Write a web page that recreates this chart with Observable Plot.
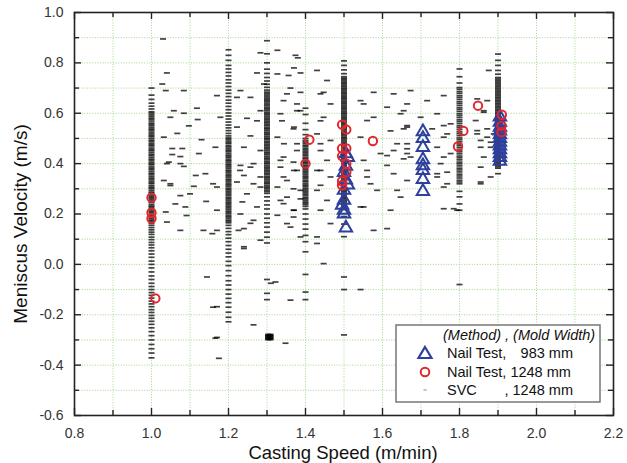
<!DOCTYPE html>
<html><head><meta charset="utf-8">
<script src="https://cdn.jsdelivr.net/npm/d3@7"></script>
<script src="https://cdn.jsdelivr.net/npm/@observablehq/plot@0.6"></script>
<style>
body{margin:0;background:#fff;font-family:"Liberation Sans",Arial,sans-serif}
#wrap{position:relative;width:627px;height:463px}
#over{position:absolute;left:0;top:0;pointer-events:none}
</style></head>
<body><div id="wrap"></div>
<script>
// ---- axis ticks ----
const xMajor = [0.8,1.0,1.2,1.4,1.6,1.8,2.0,2.2];
const xMinor = [0.9,1.1,1.3,1.5,1.7,1.9,2.1];
const yMajor = [-0.6,-0.4,-0.2,0.0,0.2,0.4,0.6,0.8,1.0];
const yMinor = [-0.5,-0.3,-0.1,0.1,0.3,0.5,0.7,0.9];
const xTitle = "Casting Speed (m/min)";
const yTitle = "Meniscus Velocity (m/s)";

// ---- Nail Test, 983 mm (triangles) ----
const tri983 = [
 [1.505,0.44],[1.51,0.425],[1.505,0.39],[1.5,0.365],[1.505,0.335],[1.51,0.315],[1.5,0.295],[1.5,0.255],[1.495,0.235],[1.5,0.215],[1.5,0.2],[1.505,0.145],
 [1.705,0.527],[1.705,0.5],[1.705,0.464],[1.705,0.416],[1.705,0.392],[1.705,0.373],[1.705,0.337],[1.705,0.29],
 [1.905,0.585],[1.905,0.565],[1.905,0.545],[1.905,0.53],[1.905,0.515],[1.905,0.5],[1.905,0.485],[1.905,0.47],[1.905,0.455],[1.905,0.44],[1.905,0.425],[1.905,0.41]
];
// ---- Nail Test, 1248 mm (circles) ----
const circ1248 = [
 [1.0,0.265],[1.0,0.205],[1.0,0.182],[1.01,-0.135],
 [1.41,0.495],[1.4,0.4],
 [1.495,0.555],[1.506,0.535],[1.495,0.46],[1.506,0.46],[1.495,0.43],[1.506,0.4],[1.506,0.366],[1.495,0.33],[1.495,0.314],
 [1.575,0.49],[1.81,0.53],[1.796,0.468],[1.848,0.63],
 [1.91,0.594],[1.909,0.55],[1.909,0.525]
];
// ---- SVC, 1248 mm (dashes): dense columns at fixed casting speed ----
const col100 = [0.70,0.672,0.655,0.64,0.628,0.617,0.606,0.601,0.594,0.588,0.581,0.576,0.569,0.561,0.556,0.55,0.543,0.537,0.532,0.525,0.518,0.512,0.507,0.5,0.493,0.488,0.481,0.475,0.47,0.462,0.456,0.451,0.444,0.437,0.432,0.425,0.418,0.413,0.406,0.4,0.395,0.387,0.381,0.376,0.369,0.362,0.357,0.35,0.343,0.338,0.331,0.325,0.32,0.312,0.306,0.301,0.294,0.287,0.282,0.275,0.268,0.263,0.256,0.25,0.245,0.237,0.231,0.226,0.219,0.212,0.207,0.2,0.193,0.188,0.181,0.175,0.17,0.163,0.155,0.146,0.137,0.128,0.119,0.108,0.098,0.087,0.077,0.066,0.054,0.041,0.028,0.013,0.0,-0.014,-0.03,-0.046,-0.06,-0.075,-0.088,-0.1,-0.112,-0.123,-0.134,-0.146,-0.157,-0.168,-0.18,-0.191,-0.203,-0.214,-0.226,-0.238,-0.252,-0.267,-0.283,-0.3,-0.318,-0.335,-0.352,-0.371];
const col120 = [0.852,0.83,0.81,0.79,0.776,0.762,0.748,0.733,0.72,0.706,0.692,0.679,0.666,0.652,0.64,0.627,0.614,0.601,0.589,0.577,0.565,0.553,0.542,0.531,0.52,0.51,0.502,0.497,0.49,0.484,0.479,0.471,0.466,0.459,0.453,0.448,0.441,0.434,0.429,0.423,0.416,0.411,0.405,0.398,0.393,0.387,0.381,0.374,0.369,0.363,0.356,0.351,0.345,0.338,0.333,0.327,0.32,0.315,0.309,0.302,0.297,0.291,0.285,0.279,0.273,0.266,0.261,0.255,0.248,0.243,0.237,0.231,0.225,0.219,0.212,0.207,0.201,0.194,0.189,0.183,0.176,0.171,0.165,0.155,0.143,0.13,0.118,0.104,0.09,0.075,0.06,0.045,0.03,0.012,-0.005,-0.025,-0.045,-0.065,-0.082,-0.1,-0.118,-0.135,-0.152,-0.17,-0.19,-0.21,-0.228];
const col130 = [0.888,0.836,0.80,0.775,0.758,0.742,0.728,0.715,0.703,0.692,0.684,0.678,0.672,0.665,0.659,0.653,0.648,0.641,0.635,0.629,0.622,0.617,0.611,0.604,0.598,0.593,0.586,0.58,0.574,0.568,0.562,0.556,0.55,0.543,0.538,0.532,0.525,0.519,0.514,0.507,0.501,0.496,0.489,0.483,0.477,0.471,0.465,0.459,0.453,0.446,0.441,0.435,0.428,0.422,0.417,0.41,0.404,0.399,0.392,0.386,0.38,0.374,0.368,0.362,0.356,0.349,0.344,0.338,0.331,0.325,0.32,0.313,0.307,0.302,0.295,0.289,0.282,0.268,0.252,0.236,0.22,0.2,0.183,0.165,0.148,0.128,0.108,0.085,-0.06,-0.115,-0.14];
const blob130 = [-0.278,-0.281,-0.284,-0.287,-0.29,-0.293,-0.296,-0.299];
const col140 = [0.62,0.595,0.56,0.535,0.515,0.5,0.492,0.486,0.48,0.473,0.468,0.461,0.455,0.449,0.443,0.437,0.431,0.424,0.419,0.412,0.406,0.401,0.394,0.388,0.382,0.376,0.37,0.364,0.358,0.351,0.346,0.34,0.333,0.328,0.321,0.315,0.31,0.303,0.297,0.291,0.285,0.279,0.273,0.266,0.261,0.255,0.248,0.243,0.237,0.23,0.22,0.2,0.18,0.16,0.14,0.115,0.09,0.05,-0.04,-0.11,-0.14];
const col150 = [0.808,0.79,0.772,0.757,0.745,0.739,0.734,0.728,0.722,0.717,0.711,0.705,0.699,0.694,0.688,0.682,0.677,0.671,0.665,0.66,0.654,0.648,0.642,0.637,0.631,0.625,0.62,0.614,0.608,0.602,0.597,0.591,0.585,0.58,0.574,0.568,0.562,0.557,0.551,0.545,0.54,0.534,0.528,0.522,0.517,0.511,0.505,0.5,0.494,0.488,0.482,0.477,0.471,0.465,0.46,0.454,0.448,0.442,0.437,0.431,0.425,0.42,0.414,0.408,0.402,0.397,0.391,0.385,0.38,0.374,0.368,0.362,0.357,0.351,0.345,0.34,0.334,0.328,0.322,0.317,0.311,0.305,0.3,0.294,0.288,0.282,0.277,0.271,0.265,0.26,0.254,0.248,0.242,0.237,0.231,0.225,0.218,0.19,0.16,0.11,-0.05,-0.1,-0.28];
const col180 = [0.776,0.745,0.72,0.702,0.695,0.686,0.679,0.67,0.663,0.655,0.646,0.639,0.631,0.622,0.615,0.607,0.598,0.591,0.583,0.574,0.567,0.559,0.55,0.543,0.535,0.526,0.519,0.511,0.502,0.495,0.487,0.478,0.471,0.463,0.454,0.447,0.439,0.43,0.423,0.415,0.406,0.399,0.391,0.382,0.375,0.367,0.358,0.351,0.343,0.334,0.327,0.32,0.29,0.268,0.24,0.215,-0.08];
const col190 = [0.835,0.81,0.79,0.77,0.755,0.742,0.736,0.73,0.724,0.718,0.712,0.706,0.7,0.694,0.688,0.682,0.676,0.67,0.664,0.658,0.652,0.646,0.64,0.634,0.628,0.622,0.616,0.61,0.604,0.598,0.592,0.586,0.58,0.574,0.568,0.562,0.556,0.55,0.544,0.538,0.532,0.526,0.52,0.514,0.508,0.502,0.496,0.49,0.484,0.478,0.472,0.466,0.46,0.454,0.448,0.442,0.436,0.43,0.424,0.418,0.412,0.406,0.4,0.394,0.388,0.382,0.36];
// ---- SVC scattered dashes between the columns ----
const svcScatter = [
 [1.03,0.895],[1.04,0.76],[1.028,0.716],[1.037,0.69],[1.084,0.69],[1.058,0.61],[1.049,0.584],[1.084,0.6],[1.097,0.55],[1.032,0.505],[1.067,0.52],[1.054,0.46],[1.08,0.46],[1.04,0.4],[1.075,0.4],[1.032,0.333],[1.049,0.313],[1.075,0.273],[1.062,0.24],[1.088,0.228],[1.037,0.208],
 [1.054,0.436],[1.075,0.428],[1.123,0.44],[1.045,0.406],[1.084,0.389],[1.115,0.353],[1.14,0.36],[1.049,0.32],[1.1,0.28],[1.091,0.194],[1.04,0.168],[1.135,0.135],[1.17,0.135],[1.075,0.135],[1.16,0.32],[1.144,-0.05],[1.16,-0.17],[1.17,-0.29],[1.24,0.07],[1.265,0.4],[1.23,0.373],[1.283,0.307],[1.257,0.163],[1.226,0.135],[1.322,-0.07],[1.31,-0.075],
 [1.12,0.575],[1.13,0.495],[1.118,0.62],[1.142,0.25],[1.11,0.31],
 [1.283,0.84],[1.327,0.85],[1.374,0.83],[1.38,0.82],[1.274,0.76],[1.356,0.75],[1.387,0.76],[1.292,0.716],[1.361,0.7],[1.231,0.69],[1.387,0.683],[1.447,0.683],[1.17,0.67],[1.222,0.663],[1.257,0.663],[1.343,0.65],[1.283,0.61],[1.378,0.61],[1.179,0.584],[1.248,0.58],[1.274,0.57],[1.339,0.57],[1.439,0.57],[1.222,0.545],[1.369,0.538],[1.257,0.51],[1.327,0.505],[1.378,0.479],[1.439,0.479],[1.24,0.465],[1.166,0.465],[1.283,0.452],[1.343,0.426],[1.369,0.406],[1.231,0.393],[1.257,0.386],[1.335,0.386],[1.378,0.373],[1.439,0.373],[1.24,0.353],[1.283,0.347],[1.343,0.347],[1.222,0.327],[1.265,0.32],[1.327,0.307],[1.369,0.3],[1.439,0.314],[1.17,0.307],[1.248,0.28],[1.352,0.267],[1.387,0.26],[1.236,0.248],[1.343,0.241],[1.274,0.228],[1.369,0.215],[1.231,0.2],[1.327,0.195],[1.265,0.175],[1.369,0.188],[1.17,0.215],[1.158,0.122],[1.24,0.142],[1.361,0.148],[1.283,0.096],[1.24,0.063],[1.43,0.083],[1.361,-0.142],[1.17,-0.168],[1.265,-0.24],[1.348,-0.313],[1.175,-0.373],[1.166,-0.293],
 [1.327,0.756],[1.37,0.78],[1.352,0.677],[1.378,0.637],[1.335,0.598],[1.37,0.545],[1.344,0.479],[1.378,0.452],[1.335,0.413],[1.37,0.373],[1.352,0.333],[1.387,0.294],[1.335,0.254],[1.37,0.215],[1.352,0.162],[1.387,0.109],
 [1.43,0.77],[1.456,0.73],[1.439,0.677],[1.465,0.637],[1.387,0.61],[1.447,0.584],[1.43,0.518],[1.465,0.492],[1.439,0.452],[1.456,0.413],[1.43,0.373],[1.465,0.347],[1.43,0.294],[1.456,0.254],[1.439,0.215],[1.465,0.162],[1.43,0.109],[1.447,0.003],
 [1.543,0.65],[1.577,0.683],[1.629,0.677],[1.664,0.637],[1.56,0.571],[1.621,0.53],[1.655,0.538],[1.543,0.505],[1.595,0.44],[1.629,0.452],[1.664,0.44],[1.551,0.413],[1.612,0.393],[1.56,0.347],[1.629,0.36],[1.586,0.294],[1.647,0.267],[1.543,0.228],[1.577,0.135],[1.621,0.215],[1.543,-0.1],
 [1.551,0.637],[1.612,0.624],[1.647,0.598],[1.577,0.584],[1.664,0.545],[1.759,0.551],[1.768,0.518],[1.638,0.479],[1.664,0.459],[1.742,0.465],[1.612,0.432],[1.655,0.419],[1.759,0.426],[1.56,0.373],[1.742,0.36],[1.569,0.32],[1.768,0.32],[1.551,0.228],[1.612,0.142],[1.759,0.221],[1.638,0.294],
 [1.673,0.69],[1.716,0.65],[1.759,0.67],[1.655,0.61],[1.699,0.584],[1.742,0.598],[1.777,0.558],[1.664,0.551],[1.729,0.538],[1.759,0.505],[1.664,0.479],[1.777,0.44],[1.673,0.426],[1.751,0.4],[1.768,0.366],[1.742,0.347],[1.664,0.333],[1.759,0.307],[1.855,0.32],[1.785,0.221],[1.794,0.215],
 [1.846,0.657],[1.863,0.61],[1.842,0.571],[1.872,0.538],[1.855,0.492],[1.881,0.465],[1.863,0.426],[1.855,0.386],[1.881,0.347],[1.846,0.518],[1.876,0.77],
 [1.872,0.65],[1.863,0.604],[1.846,0.531],[1.872,0.505],[1.855,0.465],[1.881,0.485],[1.855,0.327],[1.889,0.518]
];

const svc = [
  ...col100.map(y => ({x: 1.0, y})),
  ...col120.map(y => ({x: 1.2, y})),
  ...col130.map(y => ({x: 1.3, y})),
  ...blob130.map(y => ({x: 1.303, y})),
  ...blob130.map(y => ({x: 1.309, y})),
  ...col140.map(y => ({x: 1.4, y})),
  ...col150.map(y => ({x: 1.5, y})),
  ...col180.map(y => ({x: 1.8, y})),
  ...col190.map(y => ({x: 1.9, y})),
  ...svcScatter.map(([x, y]) => ({x, y}))
];
const tri = tri983.map(([x, y]) => ({x, y}));
const circ = circ1248.map(([x, y]) => ({x, y}));

const W = 627, H = 463, mL = 74, mR = 14, mT = 12, mB = 48;
const fw = W - mL - mR, fh = H - mT - mB;
const dash = {draw(ctx) { ctx.moveTo(-3, 0); ctx.lineTo(3, 0); }};
const fmt = d => d.toFixed(1);
const gridC = "#86c86f";
const blue = "#2e3f9c", red = "#e3262b";

const plot = Plot.plot({
  width: W, height: H,
  marginLeft: mL, marginRight: mR, marginTop: mT, marginBottom: mB,
  x: {domain: [0.8, 2.2]},
  y: {domain: [-0.6, 1.0]},
  style: {fontFamily: '"Liberation Sans", Arial, sans-serif', color: "#222", background: "#fff"},
  marks: [
    Plot.gridX([...xMajor, ...xMinor], {stroke: gridC, strokeOpacity: 0.75, strokeDasharray: "1,1.6", strokeWidth: 1}),
    Plot.gridY([...yMajor, ...yMinor], {stroke: gridC, strokeOpacity: 0.75, strokeDasharray: "1,1.6", strokeWidth: 1}),
    Plot.dot(svc, {x: "x", y: "y", symbol: dash, fill: "none", stroke: "#000", strokeWidth: 1.7, strokeOpacity: 0.75}),
    Plot.dot(tri, {x: "x", y: "y", symbol: "triangle", r: 4.6, fill: "none", stroke: blue, strokeWidth: 2}),
    Plot.dot(circ, {x: "x", y: "y", r: 4.2, fill: "none", stroke: red, strokeWidth: 2}),
    Plot.ruleX(xMajor, {x: d => d, insetTop: fh - 7, stroke: "#222", strokeWidth: 1.4}),
    Plot.ruleX(xMinor, {x: d => d, insetTop: fh - 5, stroke: "#222", strokeWidth: 1.4}),
    Plot.ruleX(xMajor, {x: d => d, insetBottom: fh - 7, stroke: "#222", strokeWidth: 1.4}),
    Plot.ruleX(xMinor, {x: d => d, insetBottom: fh - 5, stroke: "#222", strokeWidth: 1.4}),
    Plot.ruleY(yMajor, {y: d => d, insetRight: fw - 7, stroke: "#222", strokeWidth: 1.4}),
    Plot.ruleY(yMinor, {y: d => d, insetRight: fw - 5, stroke: "#222", strokeWidth: 1.4}),
    Plot.ruleY(yMajor, {y: d => d, insetLeft: fw - 7, stroke: "#222", strokeWidth: 1.4}),
    Plot.ruleY(yMinor, {y: d => d, insetLeft: fw - 5, stroke: "#222", strokeWidth: 1.4}),
    Plot.frame({stroke: "#222", strokeWidth: 1.6}),
    Plot.axisX(xMajor, {tickSize: 0, tickPadding: 13, tickFormat: fmt, fontSize: 14, fill: "#333", label: null}),
    Plot.axisY(yMajor, {tickSize: 0, tickPadding: 11, tickFormat: fmt, fontSize: 14, fill: "#333", label: null})
  ]
});
const wrap = document.getElementById("wrap");
wrap.appendChild(plot);

// titles + legend overlay
const ns = "http://www.w3.org/2000/svg";
const over = d3.create("svg").attr("id", "over").attr("width", W).attr("height", H)
  .attr("xmlns", ns).style("font-family", '"Liberation Sans", Arial, sans-serif');
over.append("text").attr("x", 343).attr("y", 459).attr("text-anchor", "middle")
  .attr("font-size", 18.5).attr("fill", "#111").text(xTitle);
over.append("text").attr("transform", "translate(27,224) rotate(-90)").attr("text-anchor", "middle")
  .attr("font-size", 19).attr("fill", "#111").text(yTitle);
const lg = over.append("g").attr("transform", "translate(396,325)");
lg.append("rect").attr("x", 0).attr("y", 0).attr("width", 204).attr("height", 77)
  .attr("fill", "#fff").attr("stroke", "#777").attr("stroke-width", 1.5);
const t = (x, y, s, anchor, italic) => lg.append("text").attr("x", x).attr("y", y)
  .attr("text-anchor", anchor || "start").attr("font-size", 14.5).attr("fill", "#111")
  .attr("font-style", italic ? "italic" : "normal").text(s);
t(47, 15, "(Method) , (Mold Width)", "start", true);
t(51, 33, "Nail Test,"); t(177, 33, "983 mm", "end");
t(51, 51.5, "Nail Test, 1248 mm");
t(51, 70, "SVC"); t(177, 70, ", 1248 mm", "end");
lg.append("path").attr("d", "M29,22 L35.5,33 L22.5,33 Z").attr("fill", "none").attr("stroke", blue).attr("stroke-width", 2.2);
lg.append("circle").attr("cx", 29).attr("cy", 47).attr("r", 4.3).attr("fill", "none").attr("stroke", red).attr("stroke-width", 2);
lg.append("line").attr("x1", 27.5).attr("x2", 30.5).attr("y1", 65).attr("y2", 65).attr("stroke", "#999").attr("stroke-width", 1.2);
wrap.appendChild(over.node());
</script></body></html>
